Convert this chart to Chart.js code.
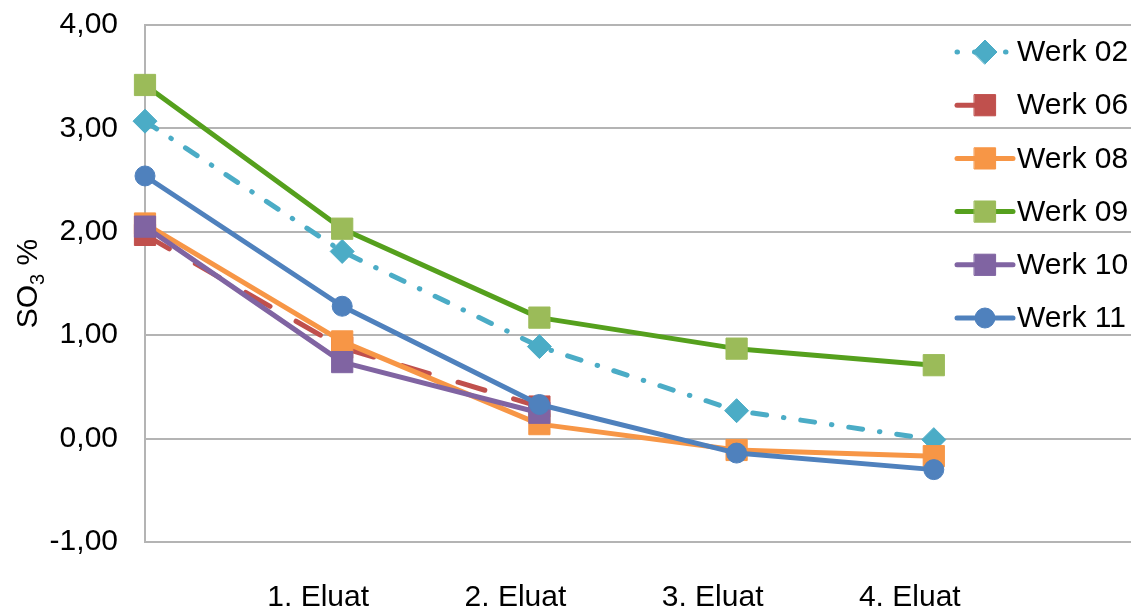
<!DOCTYPE html>
<html>
<head>
<meta charset="utf-8">
<script src="https://cdn.jsdelivr.net/npm/chart.js@4.4.1/dist/chart.umd.min.js"></script>
<style>
  html, body { margin: 0; padding: 0; background: #ffffff; }
  #wrap { width: 1131px; height: 609px; }
</style>
</head>
<body>
<div id="wrap"><canvas id="chart" width="1131" height="609"></canvas></div>
<script>
// Categories along the x axis (first and last positions carry no label)
const categories = ['', '1. Eluat', '2. Eluat', '3. Eluat', '4. Eluat', ''];

// SO3 content per plant (%)
const werk02 = [3.07, 1.81, 0.89, 0.27, -0.01, null];
const werk06 = [1.97, 0.88, 0.31, null, null, null];
const werk08 = [2.08, 0.94, 0.14, -0.11, -0.17, null];
const werk09 = [3.42, 2.03, 1.17, 0.87, 0.71, null];
const werk10 = [2.05, 0.74, 0.25, null, null, null];
const werk11 = [2.54, 1.28, 0.33, -0.14, -0.30, null];

const seriesNames = ['Werk 02', 'Werk 06', 'Werk 08', 'Werk 09', 'Werk 10', 'Werk 11'];
const yTicks = [-1, 0, 1, 2, 3, 4];

const FONT = "'Liberation Sans', Arial, sans-serif";
const FONT_SIZE = 30;

function series(label, data, line, marker, style, radius, dash, order) {
  return {
    label: label,
    data: data,
    borderColor: line,
    backgroundColor: marker,
    borderWidth: 5,
    borderDash: dash,
    borderCapStyle: 'round',
    borderJoinStyle: 'round',
    pointStyle: style,
    pointRadius: radius,
    pointBackgroundColor: marker,
    pointBorderColor: marker,
    pointBorderWidth: 1,
    tension: 0,
    spanGaps: false,
    order: order
  };
}

const datasets = [
  series(seriesNames[0], werk02, '#4BACC6', '#4BACC6', 'rectRot', 12, [14, 17, 0.5, 17], 6),
  series(seriesNames[1], werk06, '#C0504D', '#C0504D', 'rect', 15, [28, 30], 5),
  series(seriesNames[2], werk08, '#F79646', '#F79646', 'rect', 15, [], 4),
  series(seriesNames[3], werk09, '#55A01D', '#9BBB59', 'rect', 15, [], 3),
  series(seriesNames[4], werk10, '#8064A2', '#8064A2', 'rect', 15, [], 2),
  series(seriesNames[5], werk11, '#4F81BD', '#4F81BD', 'circle', 10, [], 1)
];

// Legend drawn inside the plot area, on top of the grid lines
const insideLegend = {
  id: 'insideLegend',
  afterDraw(chart) {
    const ctx = chart.ctx;
    const x0 = 957, x1 = 1013, xm = 985, tx = 1017;
    chart.data.datasets.forEach((ds, i) => {
      const y = 52 + i * 53.2;
      const dash = ds.borderDash || [];
      ctx.save();
      ctx.strokeStyle = ds.borderColor;
      ctx.lineWidth = ds.borderWidth;
      ctx.lineCap = 'round';
      ctx.setLineDash(dash);
      ctx.lineDashOffset = dash.length === 4 ? dash[0] + dash[1] : 0;
      ctx.beginPath();
      ctx.moveTo(x0, y);
      ctx.lineTo(x1, y);
      ctx.stroke();
      ctx.setLineDash([]);
      ctx.fillStyle = ds.pointBackgroundColor;
      ctx.strokeStyle = ds.pointBorderColor;
      ctx.lineWidth = 1;
      Chart.helpers.drawPoint(ctx, {
        pointStyle: ds.pointStyle,
        radius: ds.pointRadius,
        borderWidth: 1,
        rotation: 0
      }, xm, y);
      ctx.fillStyle = '#000000';
      ctx.font = FONT_SIZE + 'px ' + FONT;
      ctx.textAlign = 'left';
      ctx.textBaseline = 'middle';
      ctx.fillText(ds.label, tx, y + 1);
      ctx.restore();
    });
  }
};

// Rotated y-axis title with subscript
const yTitle = {
  id: 'yTitle',
  afterDraw(chart) {
    const ctx = chart.ctx;
    const area = chart.chartArea;
    const cy = (area.top + area.bottom) / 2;
    const big = FONT_SIZE + 'px ' + FONT;
    const small = '20px ' + FONT;
    ctx.save();
    ctx.translate(37, cy);
    ctx.rotate(-Math.PI / 2);
    ctx.fillStyle = '#000000';
    ctx.textBaseline = 'alphabetic';
    ctx.textAlign = 'left';
    ctx.font = big;
    const w1 = ctx.measureText('SO').width;
    const w3 = ctx.measureText(' %').width;
    ctx.font = small;
    const w2 = ctx.measureText('3').width;
    let x = -(w1 + w2 + w3) / 2;
    ctx.font = big;
    ctx.fillText('SO', x, 0);
    x += w1;
    ctx.font = small;
    ctx.fillText('3', x, 7);
    x += w2;
    ctx.font = big;
    ctx.fillText(' %', x, 0);
    ctx.restore();
  }
};

new Chart(document.getElementById('chart'), {
  type: 'line',
  data: { labels: categories, datasets: datasets },
  plugins: [insideLegend, yTitle],
  options: {
    responsive: false,
    animation: false,
    devicePixelRatio: 1,
    layout: { autoPadding: false, padding: { top: 25, right: 0, bottom: 0, left: 0 } },
    plugins: {
      legend: { display: false },
      tooltip: { enabled: false }
    },
    scales: {
      x: {
        type: 'category',
        offset: false,
        grid: { display: false, drawTicks: false },
        border: { display: false },
        ticks: {
          font: { family: FONT, size: FONT_SIZE },
          color: '#000000',
          padding: 38,
          labelOffset: -24,
          maxRotation: 0,
          autoSkip: false
        },
        afterFit(scale) {
          scale.height = 67;
          scale.paddingLeft = 0;
          scale.paddingRight = 0;
        }
      },
      y: {
        min: -1,
        max: 4,
        afterBuildTicks(scale) { scale.ticks = yTicks.map(v => ({ value: v })); },
        grid: { color: '#B4B4B4', lineWidth: 2, drawTicks: false },
        border: { display: true, color: '#B4B4B4', width: 2 },
        ticks: {
          font: { family: FONT, size: FONT_SIZE },
          color: '#000000',
          padding: 27,
          callback: v => v.toFixed(2).replace('.', ',')
        },
        afterFit(scale) {
          scale.width = 145;
          scale.paddingTop = 0;
          scale.paddingBottom = 0;
        }
      }
    }
  }
});
</script>
</body>
</html>
